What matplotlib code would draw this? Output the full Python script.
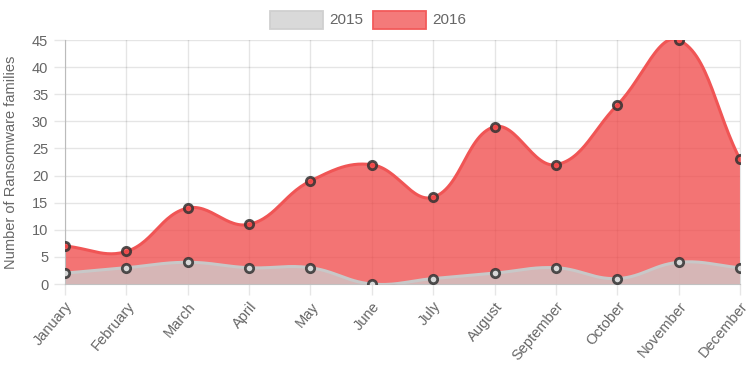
import numpy as np
import matplotlib
matplotlib.use("Agg")
import matplotlib.pyplot as plt
from matplotlib.patches import Rectangle

plt.rcParams['font.family'] = ['Liberation Sans', 'DejaVu Sans']

months = ["January", "February", "March", "April", "May", "June", "July",
          "August", "September", "October", "November", "December"]
values_2015 = [2, 3, 4, 3, 3, 0, 1, 2, 3, 1, 4, 3]
values_2016 = [7, 6, 14, 11, 19, 22, 16, 29, 22, 33, 45, 23]
y_ticks = [0, 5, 10, 15, 20, 25, 30, 35, 40, 45]
series_names = ["2015", "2016"]

W, H, DPI = 750, 375, 100
fig = plt.figure(figsize=(W / DPI, H / DPI), dpi=DPI)
left_px, right_px, top_px, bot_px = 65, 740, 40, 284
ax = fig.add_axes([left_px / W, 1 - bot_px / H, (right_px - left_px) / W, (bot_px - top_px) / H])

x = np.arange(len(months))
ax.set_xlim(0, len(months) - 1)
ax.set_ylim(0, 45)


def spline(xs, ys, tension=0.4, n=30):
    # Chart.js style bezier spline computed in pixel space
    xl, yl = ax.get_xlim(), ax.get_ylim()
    px = (np.asarray(xs, float) - xl[0]) / (xl[1] - xl[0]) * (right_px - left_px)
    py = (np.asarray(ys, float) - yl[0]) / (yl[1] - yl[0]) * (bot_px - top_px)
    m = len(px)
    cps = []
    for i in range(m):
        p0 = (px[max(i - 1, 0)], py[max(i - 1, 0)])
        p1 = (px[i], py[i])
        p2 = (px[min(i + 1, m - 1)], py[min(i + 1, m - 1)])
        d01 = np.hypot(p1[0] - p0[0], p1[1] - p0[1])
        d12 = np.hypot(p2[0] - p1[0], p2[1] - p1[1])
        tot = d01 + d12
        s01 = d01 / tot if tot else 0
        s12 = d12 / tot if tot else 0
        fa, fb = tension * s01, tension * s12
        prev_cp = (p1[0] - fa * (p2[0] - p0[0]), p1[1] - fa * (p2[1] - p0[1]))
        next_cp = (p1[0] + fb * (p2[0] - p0[0]), p1[1] + fb * (p2[1] - p0[1]))
        cps.append((prev_cp, next_cp))
    outx, outy = [], []
    t = np.linspace(0, 1, n)
    for i in range(m - 1):
        P0 = np.array([px[i], py[i]])
        P1 = np.array(cps[i][1])
        P2 = np.array(cps[i + 1][0])
        P3 = np.array([px[i + 1], py[i + 1]])
        seg = ((1 - t) ** 3)[:, None] * P0 + (3 * (1 - t) ** 2 * t)[:, None] * P1 + \
              (3 * (1 - t) * t ** 2)[:, None] * P2 + (t ** 3)[:, None] * P3
        outx.extend(seg[:, 0])
        outy.extend(seg[:, 1])
    outx = np.array(outx) / (right_px - left_px) * (xl[1] - xl[0]) + xl[0]
    outy = np.array(outy) / (bot_px - top_px) * (yl[1] - yl[0]) + yl[0]
    return outx, outy


red_fill = (240 / 255, 70 / 255, 70 / 255, 0.75)
red_line = '#f05555'
grey_fill = (205 / 255, 205 / 255, 205 / 255, 0.75)
grey_line = '#c8c8c8'
edge = (0.2, 0.2, 0.2, 0.85)

ax.grid(True, color='black', alpha=0.1, lw=1)
ax.set_axisbelow(True)

# 2016 (drawn first, underneath)
sx, sy = spline(x, values_2016)
ax.fill_between(sx, 0, sy, color=red_fill, lw=0, zorder=2)
ax.plot(sx, sy, color=red_line, lw=2.2, zorder=3)
ax.plot(x, values_2016, 'o', ms=6, mfc=red_fill, mec=edge, mew=2, zorder=4)

# 2015 on top
sx, sy = spline(x, values_2015)
ax.fill_between(sx, 0, sy, color=grey_fill, lw=0, zorder=5)
ax.plot(sx, sy, color=grey_line, lw=2.2, zorder=6)
ax.plot(x, values_2015, 'o', ms=6, mfc='#d8d8d8', mec=edge, mew=2, zorder=7)

ax.set_yticks(y_ticks)
ax.set_xticks(x)
ax.set_xticklabels(months, rotation=50, ha='right', rotation_mode='anchor')
ax.tick_params(axis='both', color='#e6e6e6', labelcolor='#666666', labelsize=10.5, length=8, width=1)
ax.tick_params(axis='x', pad=3)
ax.tick_params(axis='y', pad=4)
ax.spines['top'].set_visible(False)
ax.spines['right'].set_color('#e6e6e6')
ax.spines['left'].set_color('#bbbbbb')
ax.spines['bottom'].set_color('#bbbbbb')
ax.set_ylabel("Number of Ransomware families", color='#666666', fontsize=10.5, labelpad=10)

# legend
legend_y = 20
box_w, box_h = 53, 18
items = [(270, '#d9d9d9', '#d0d0d0', series_names[0]),
         (373, '#f47a7a', '#f25a5a', series_names[1])]
for bx, fc, ec, label in items:
    r = Rectangle((bx / W, 1 - (legend_y + box_h / 2) / H), box_w / W, box_h / H,
                  transform=fig.transFigure, facecolor=fc, edgecolor=ec, lw=1.3)
    fig.add_artist(r)
    fig.text((bx + box_w + 6) / W, 1 - legend_y / H, label, color='#666666', fontsize=11,
             va='center', ha='left')

fig.savefig("out.png", dpi=DPI)
